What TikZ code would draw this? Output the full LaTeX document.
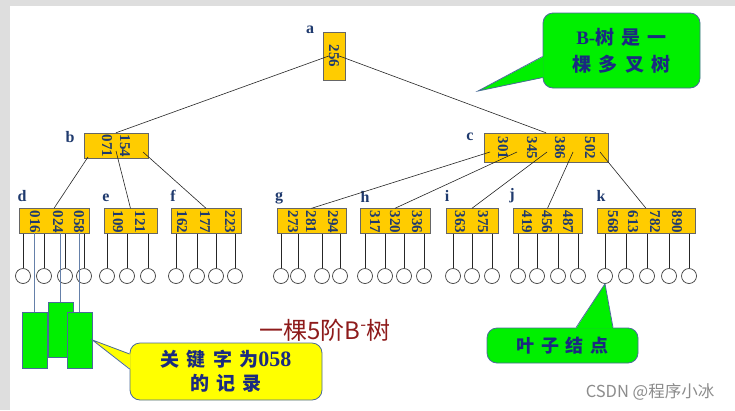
\documentclass[tikz,border=0pt]{standalone}
\usepackage{fontspec}
\setmainfont{Liberation Serif}
\newfontfamily\cjk{Noto Sans CJK SC}
\newfontfamily\cjksp[LetterSpace=38]{Noto Sans CJK SC}
\usetikzlibrary{positioning}

\definecolor{keygold}{HTML}{FFCC00}
\definecolor{keyblue}{HTML}{1F3A6E}
\definecolor{notegreen}{HTML}{00F000}
\definecolor{noteyellow}{HTML}{FFFF00}
\definecolor{noteline}{HTML}{4A6A9A}
\definecolor{notetext}{HTML}{1A2A80}
\definecolor{titlered}{HTML}{8E1B1B}

\tikzset{
  keybox/.style={draw=black!60, fill=keygold, inner sep=0pt, minimum height=25pt},
  keytext/.style={rotate=-90, inner sep=0pt, text=keyblue, font=\fontsize{15}{15}\selectfont\bfseries},
  tag/.style={inner sep=0pt, text=keyblue, font=\fontsize{16}{16}\selectfont\bfseries},
  leaf/.style={draw=black!75, line width=.7pt, circle, minimum size=15pt, inner sep=0pt},
  edge/.style={draw=black!85, line width=.6pt},
  note/.style={draw=noteline, line width=.8pt, rounded corners=10pt, inner sep=0pt, align=center, text=notetext},
  record/.style={draw=noteline, fill=notegreen, line width=.8pt, minimum width=25pt, minimum height=56pt, inner sep=0pt},
  recline/.style={draw=noteline!85, line width=.8pt}
}

\begin{document}
\begin{tikzpicture}[x=1pt,y=-1pt]
	\fill[black!13] (0,0) rectangle (735,410);
	\fill[white] (10,6) rectangle (735,410);
	\useasboundingbox (0,0) rectangle (735,410);

	% root and second level
	\node[keybox, minimum width=22pt, minimum height=48pt] (a) at (334,56) {};
	\node[keybox, minimum width=64pt] (b) at (116,145.5) {};
	\node[keybox, minimum width=124pt, minimum height=29pt] (c) at (546,147.5) {};

	% third level
	\foreach \n/\x/\w in {d/54/70, e/130.5/53, f/206/70, g/311.5/69, h/395/70, i/472/52, j/547.5/69, k/646/98}
		\node[keybox, minimum width=\w pt] (\n) at (\x,221) {};

	% keys
	\node[keytext] (a256) at (334,56) {256};
	\foreach \k/\x in {071/107,154/125} \node[keytext] (b\k) at (\x,146) {\k};
	\foreach \k/\x in {301/503,345/532,386/560,502/590} \node[keytext] (c\k) at (\x,148) {\k};
	\foreach \k/\x in {016/35,024/58,058/79} \node[keytext] (d\k) at (\x,222) {\k};
	\foreach \k/\x in {109/118,121/140} \node[keytext] (e\k) at (\x,222) {\k};
	\foreach \k/\x in {162/182,177/205,223/230} \node[keytext] (f\k) at (\x,222) {\k};
	\foreach \k/\x in {273/293,281/311,294/333} \node[keytext] (g\k) at (\x,222) {\k};
	\foreach \k/\x in {317/375,320/395,336/417} \node[keytext] (h\k) at (\x,222) {\k};
	\foreach \k/\x in {363/460,375/483} \node[keytext] (i\k) at (\x,222) {\k};
	\foreach \k/\x in {419/527,456/547,487/568} \node[keytext] (j\k) at (\x,222) {\k};
	\foreach \k/\x in {568/613,613/633,782/655,890/677} \node[keytext] (k\k) at (\x,222) {\k};

	% node letters
	\foreach \n/\x/\y in {a/310/30, b/70/137, c/470/137, d/22/196, e/106/198, f/173/196,
			g/279/198, h/365/197, i/447/196, j/512/196, k/601/196}
		\node[tag] (l\n) at (\x,\y) {\n};

	% pointers
	\coordinate (bp0) at (88,157);
	\coordinate (bp1) at (116,151);
	\coordinate (bp2) at (143,152);
	\foreach \x [count=\i from 0] in {490,517,547,573,600}
		\coordinate (cp\i) at (\x,152);

	\draw[edge] (a256.south) -- (b.north);
	\draw[edge] (a256.north) -- (c.north);
	\draw[edge] (bp0) -- (d.north);
	\draw[edge] (bp1) -- (e.north);
	\draw[edge] (bp2) -- (f.north);
	\foreach \p/\n in {0/g,1/h,2/i,3/j,4/k}
		\draw[edge] (cp\p) -- (\n.north);

	% leaves
	\foreach \n/\list in {d/{23,44,65,84}, e/{107,127,148}, f/{176,197,216,235}, g/{281,298,322,340},
			h/{365,385,404,424}, i/{453,472,492}, j/{518,537,558,578}, k/{605,626,647,669,689}}
		\foreach \x [count=\i] in \list {
			\node[leaf] (\n l\i) at (\x,276) {};
			\draw[edge] (\n l\i |- \n.south) -- (\n l\i);
		}

	% records of d
	\node[record] (r1) at (34.5,340) {};
	\node[record, minimum height=55pt] (r2) at (60.5,329.5) {};
	\node[record] (r3) at (79.5,340) {};
	\draw[recline] (r1.north |- d016.east) -- (r1.north);
	\draw[recline] (r2.north |- d024.east) -- (r2.north);
	\draw[recline] (r3.north |- d058.east) -- (r3.north);

	% callouts
	\node[note, fill=notegreen, minimum width=157pt, minimum height=75pt,
		font=\cjksp\fontsize{19}{27}\selectfont\bfseries] (treenote) at (621.5,50.5)
		{{\rmfamily\bfseries B-}树是一\\棵多叉树};
	\coordinate (treetip) at (478,91);
	\fill[notegreen] ([shift={(1pt,-6pt)}]treenote.west) -- (treetip) -- ([shift={(1pt,-27pt)}]treenote.west) -- cycle;
	\draw[noteline, line width=.8pt] ([yshift=-6pt]treenote.west) -- (treetip) -- ([yshift=-27pt]treenote.west);

	\node[note, fill=noteyellow, minimum width=192pt, minimum height=57pt,
		font=\cjksp\fontsize{19}{24}\selectfont\bfseries] (keynote) at (226,371.5)
		{关键字为{\rmfamily\fontsize{22}{24}\selectfont\bfseries 058}\\的记录};
	\fill[noteyellow] ([shift={(1pt,17.5pt)}]keynote.west) -- (r3.east) -- ([shift={(1pt,2.5pt)}]keynote.west) -- cycle;
	\draw[noteline, line width=.8pt] ([yshift=17.5pt]keynote.west) -- (r3.east) -- ([yshift=2.5pt]keynote.west);

	\node[note, fill=notegreen, minimum width=151pt, minimum height=35pt,
		font=\cjksp\fontsize{18}{18}\selectfont\bfseries] (leafnote) at (562.5,345.5) {叶子结点};
	\fill[notegreen] ([shift={(13.5pt,-1pt)}]leafnote.north) -- (kl1.south) -- ([shift={(50.5pt,-1pt)}]leafnote.north) -- cycle;
	\draw[noteline, line width=.8pt] ([xshift=13.5pt]leafnote.north) -- (kl1.south) -- ([xshift=50.5pt]leafnote.north);

	% title and mark
	\node[inner sep=0pt, text=titlered, font=\cjk\fontsize{24}{24}\selectfont] (title) at (325,330) {一棵5阶B\textsuperscript{-}树};
	\node[inner sep=0pt, text=black!45, font=\cjk\fontsize{16.5}{16.5}\selectfont] (mark) at (650,392) {CSDN @程序小冰};
\end{tikzpicture}
\end{document}
